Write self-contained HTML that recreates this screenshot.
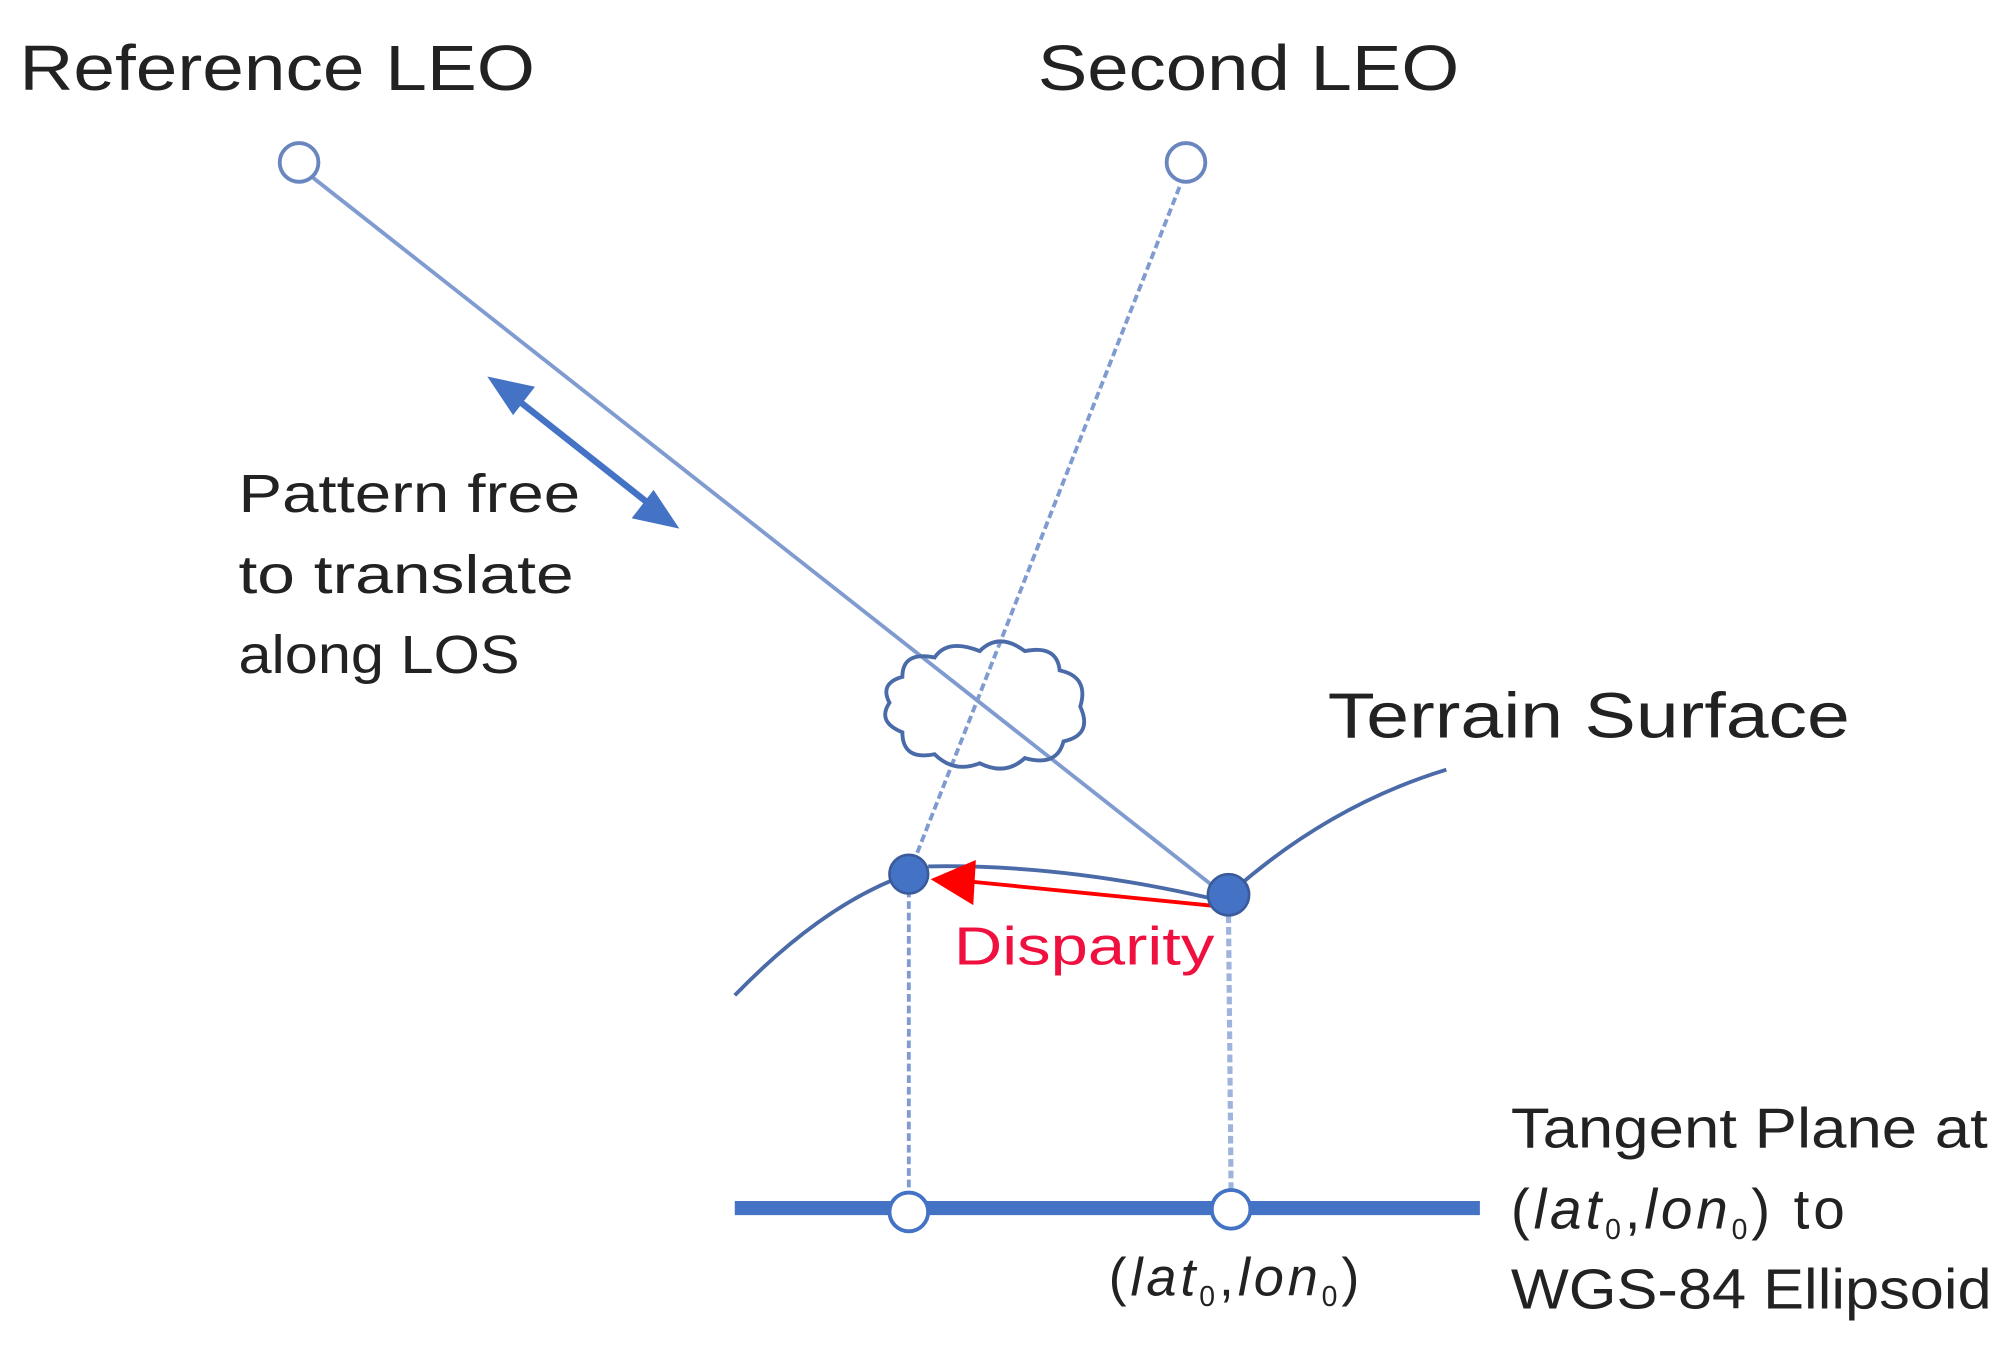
<!DOCTYPE html>
<html><head><style>html,body{margin:0;padding:0;background:#fff}svg{display:block}</style></head>
<body>
<svg width="2011" height="1346" viewBox="0 0 1560 1044" preserveAspectRatio="none" xmlns="http://www.w3.org/2000/svg" font-family="'Liberation Sans',sans-serif">
<g fill="#222" font-size="50">
<text x="15" y="70" textLength="400" lengthAdjust="spacingAndGlyphs">Reference LEO</text>
<text x="805" y="70" textLength="327" lengthAdjust="spacingAndGlyphs">Second  LEO</text>
</g>
<line x1="243" y1="138" x2="942" y2="688" stroke="#7f9bd0" stroke-width="3"/>
<line x1="915" y1="145" x2="705" y2="678" stroke="#7f9bd0" stroke-width="3" stroke-dasharray="6,3"/>
<circle cx="232" cy="126" r="15" fill="#fff" stroke="#6a86be" stroke-width="3"/>
<circle cx="920" cy="126" r="15" fill="#fff" stroke="#6a86be" stroke-width="3"/>
<line x1="400" y1="309" x2="505" y2="392" stroke="#4472c4" stroke-width="5"/>
<path d="M378,292 L415,300 L398,322 Z" fill="#4472c4"/>
<path d="M527,410 L490,402 L507,380 Z" fill="#4472c4"/>
<g fill="#222" font-size="42">
<text x="185" y="397" textLength="265" lengthAdjust="spacingAndGlyphs">Pattern free</text>
<text x="185" y="460" textLength="260" lengthAdjust="spacingAndGlyphs">to translate</text>
<text x="185" y="522" textLength="218" lengthAdjust="spacingAndGlyphs">along LOS</text>
</g>
<path d="M700,525 Q700,505 725,510 Q735,495 760,505 Q775,490 795,505 Q820,500 822,520 Q845,525 838,548 Q848,570 825,575 Q820,595 795,588 Q780,602 760,592 Q740,600 725,585 Q700,590 700,568 Q680,560 690,545 Q682,530 700,525 Z" fill="none" stroke="#4a6aa8" stroke-width="3"/>
<text x="1030" y="572" font-size="50" fill="#222" textLength="405" lengthAdjust="spacingAndGlyphs">Terrain Surface</text>
<path d="M570,772 Q640,700 705,678" fill="none" stroke="#4a6aa8" stroke-width="3"/>
<path d="M953,694 Q1030,625 1122,597" fill="none" stroke="#4a6aa8" stroke-width="3"/>
<path d="M720,672 Q830,670 953,700" fill="none" stroke="#4a6aa8" stroke-width="3"/>
<line x1="705" y1="690" x2="705" y2="925" stroke="#7f9bd0" stroke-width="3" stroke-dasharray="6,3"/>
<line x1="953" y1="710" x2="955" y2="925" stroke="#9fb4dc" stroke-width="4" stroke-dasharray="6,3"/>
<line x1="945" y1="703" x2="755" y2="684" stroke="#f00" stroke-width="3"/>
<path d="M722,682 L757,667 L755,702 Z" fill="#f00"/>
<circle cx="705" cy="678" r="15" fill="#4472c4" stroke="#3a5a9a" stroke-width="2"/>
<circle cx="953" cy="694" r="16" fill="#4472c4" stroke="#3a5a9a" stroke-width="2"/>
<text x="740" y="748" font-size="42" fill="#f01040" textLength="202" lengthAdjust="spacingAndGlyphs">Disparity</text>
<line x1="570" y1="937" x2="1148" y2="937" stroke="#4472c4" stroke-width="11"/>
<circle cx="705" cy="940" r="15" fill="#fff" stroke="#4472c4" stroke-width="3"/>
<circle cx="955" cy="938" r="15" fill="#fff" stroke="#4472c4" stroke-width="3"/>
<text x="860" y="1005" font-size="42" fill="#222" letter-spacing="3">(<tspan font-style="italic">lat</tspan><tspan font-size="22" dy="8">0</tspan><tspan dy="-8">,</tspan><tspan font-style="italic">lon</tspan><tspan font-size="22" dy="8">0</tspan><tspan dy="-8">)</tspan></text>
<g fill="#222" font-size="44">
<text x="1172" y="890" textLength="370" lengthAdjust="spacingAndGlyphs">Tangent Plane at</text>
<text x="1172" y="953" letter-spacing="3">(<tspan font-style="italic">lat</tspan><tspan font-size="22" dy="8">0</tspan><tspan dy="-8">,</tspan><tspan font-style="italic">lon</tspan><tspan font-size="22" dy="8">0</tspan><tspan dy="-8">) to</tspan></text>
<text x="1172" y="1015" textLength="373" lengthAdjust="spacingAndGlyphs">WGS-84 Ellipsoid</text>
</g>
</svg>
</body></html>
